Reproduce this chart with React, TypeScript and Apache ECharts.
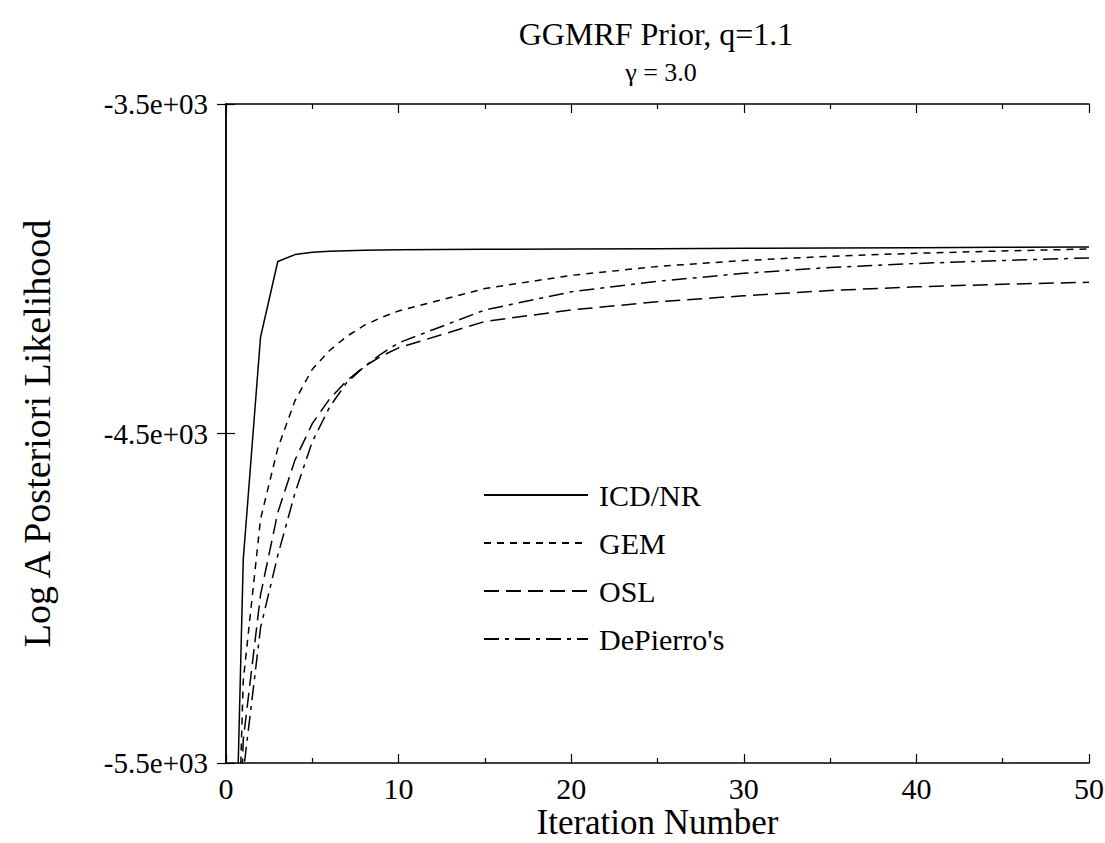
import React, { useEffect, useRef } from "react";
import * as echarts from "echarts";

const iterations = [0, 1, 2, 3, 4, 5, 6, 7, 8, 9, 10, 15, 20, 25, 30, 35, 40, 45, 50];
const icdNr = [-7000, -4882, -4208, -3978, -3957, -3950, -3947, -3945, -3944, -3943, -3942, -3941, -3940, -3939, -3938, -3937, -3936, -3935, -3934];
const gem = [-7000, -5250, -4760, -4545, -4400, -4305, -4248, -4205, -4172, -4148, -4128, -4060, -4020, -3993, -3975, -3962, -3953, -3946, -3940];
const osl = [-7000, -5430, -4990, -4740, -4580, -4470, -4395, -4340, -4297, -4265, -4240, -4160, -4125, -4100, -4082, -4066, -4055, -4047, -4041];
const dePierro = [-7000, -5530, -5090, -4870, -4680, -4525, -4420, -4345, -4298, -4258, -4225, -4125, -4070, -4038, -4014, -3996, -3984, -3975, -3967];

const seriesNames = ["ICD/NR", "GEM", "OSL", "DePierro's"];
const yTickValues = [-5500, -4500, -3500];
const yTickLabels = ["-5.5e+03", "-4.5e+03", "-3.5e+03"];

const FONT = "Liberation Serif";

export default function App() {
  const ref = useRef<HTMLDivElement>(null);
  useEffect(() => {
    if (!ref.current) return;
    const chart = echarts.init(ref.current, undefined, { renderer: "svg" });
    const pairs = (vals: number[]) => iterations.map((x, i) => [x, vals[i]]);
    const dashes: any[] = ["solid", [7, 6], [15, 7], [15, 6, 4, 6]];
    const allVals = [icdNr, gem, osl, dePierro];
    const axisLine = { show: true, lineStyle: { color: "#000", width: 1.5 } };
    const xCommon = {
      type: "value",
      min: 0,
      max: 50,
      interval: 10,
      axisLine,
      splitLine: { show: false },
      axisTick: { show: true, inside: true, length: 9, lineStyle: { color: "#000", width: 1.2 } },
      minorTick: { show: true, splitNumber: 2, length: 5, lineStyle: { color: "#000", width: 1.2 } },
    };
    chart.setOption({
      animation: false,
      backgroundColor: "#fff",
      textStyle: { fontFamily: FONT, color: "#000" },
      title: [
        {
          text: "GGMRF Prior, q=1.1",
          left: 651,
          top: 13,
          textAlign: "center",
          textStyle: { fontFamily: FONT, fontSize: 32, fontWeight: "normal", color: "#000" },
        },
        {
          text: "γ = 3.0",
          left: 656,
          top: 54,
          textAlign: "center",
          textStyle: { fontFamily: FONT, fontSize: 26, fontWeight: "normal", color: "#000" },
        },
      ],
      grid: { left: 226, right: 16, top: 104, bottom: 80, containLabel: false, outerBoundsMode: "none" },
      legend: {
        orient: "vertical",
        left: 478,
        top: 475,
        itemWidth: 104,
        itemHeight: 30,
        itemGap: 18,
        data: seriesNames.map((name) => ({ name, itemStyle: { opacity: 0 } })),
        textStyle: { fontFamily: FONT, fontSize: 30, color: "#000", padding: [0, 0, 0, 6], lineHeight: 30 },
      },
      xAxis: [
        {
          ...xCommon,
          position: "bottom",
          name: "Iteration Number",
          nameLocation: "middle",
          nameGap: 42,
          nameMoveOverlap: false,
          nameTextStyle: { fontFamily: FONT, fontSize: 35, color: "#000", verticalAlign: "top", lineHeight: 35 },
          axisLabel: { show: true, margin: 10, fontFamily: FONT, fontSize: 30, color: "#000" },
        },
        {
          ...xCommon,
          position: "top",
          axisLabel: { show: false },
        },
      ],
      yAxis: [
        {
          type: "value",
          min: -5500,
          max: -3500,
          position: "left",
          axisLine,
          splitLine: { show: false },
          name: "Log A Posteriori Likelihood",
          nameLocation: "middle",
          nameGap: 170,
          nameRotate: 90,
          nameMoveOverlap: false,
          nameTextStyle: { fontFamily: FONT, fontSize: 38, color: "#000" },
          axisTick: { show: true, inside: true, length: 9, customValues: yTickValues, lineStyle: { color: "#000", width: 1.2 } },
          axisLabel: {
            show: true,
            margin: 18,
            customValues: yTickValues,
            fontFamily: FONT,
            fontSize: 29,
            color: "#000",
            formatter: (v: number) => {
              const i = yTickValues.indexOf(v);
              return i >= 0 ? yTickLabels[i] : "";
            },
          },
        },
        {
          type: "value",
          min: -5500,
          max: -3500,
          position: "right",
          axisLine,
          splitLine: { show: false },
          axisTick: { show: true, inside: true, length: 9, customValues: yTickValues, lineStyle: { color: "#000", width: 1.2 } },
          axisLabel: { show: false },
        },
      ],
      series: seriesNames.map((name, k) => ({
        name,
        type: "line",
        xAxisIndex: 0,
        yAxisIndex: 0,
        data: pairs(allVals[k]),
        showSymbol: false,
        symbol: "none",
        clip: true,
        lineStyle: { color: "#000", width: 1.5, type: dashes[k] },
        itemStyle: { color: "#000" },
      })),
    });
    return () => chart.dispose();
  }, []);
  return (
    <div
      ref={ref}
      style={{ position: "absolute", left: 0, top: 0, width: 1105, height: 843, background: "#fff" }}
    />
  );
}
